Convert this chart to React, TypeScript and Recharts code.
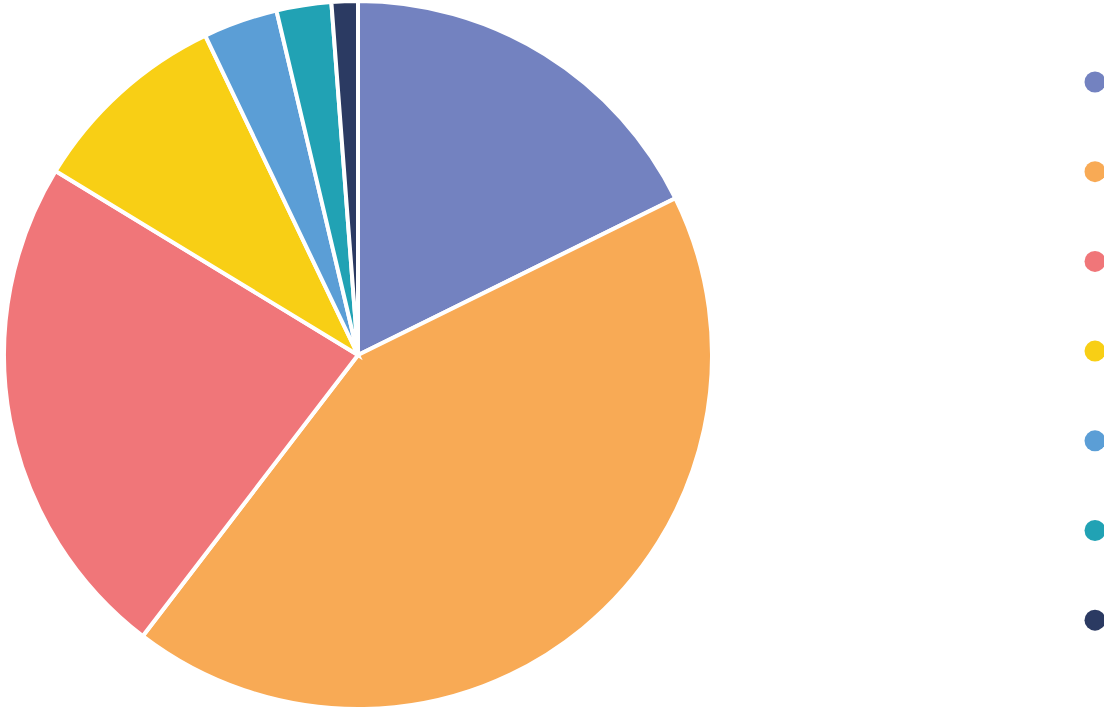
import { PieChart, Pie, Cell, Legend } from 'recharts'

// slice shares (percent)
const categories = ['A', 'B', 'C', 'D', 'E', 'F', 'G']
const shares = [17.7, 42.7, 23.3, 9.2, 3.4, 2.5, 1.2]
const colors = ['#7382C0', '#F8AA55', '#F07679', '#F8CF15', '#5B9ED6', '#21A2B4', '#2B3A62']

const data = categories.map((name, i) => ({ name, value: shares[i] }))

const DotLegend = (props: any) => {
  const { payload } = props
  return (
    <svg width={40} height={580} style={{ overflow: 'visible' }}>
      {(payload || []).map((p: any, i: number) => (
        <circle key={p.value} cx={12} cy={11 + i * 89.7} r={10.5} fill={colors[i]} />
      ))}
    </svg>
  )
}

const App = () => {
  return (
    <div style={{ position: 'absolute', left: 0, top: 0, width: 1104, height: 711, overflow: 'hidden', background: '#fff' }}>
      <PieChart width={1104} height={711} margin={{ top: 0, right: 0, bottom: 0, left: 0 }}>
        <Pie
          data={data}
          dataKey="value"
          nameKey="name"
          cx={358}
          cy={355}
          outerRadius={354}
          startAngle={90}
          endAngle={-270}
          stroke="#fff"
          strokeWidth={4}
          isAnimationActive={false}
        >
          {data.map((d, i) => (
            <Cell key={d.name} fill={colors[i]} />
          ))}
        </Pie>
        <Legend
          layout="vertical"
          content={<DotLegend />}
          wrapperStyle={{ position: 'absolute', left: 1083, top: 71, width: 40, height: 580 }}
        />
      </PieChart>
    </div>
  )
}

export default App
